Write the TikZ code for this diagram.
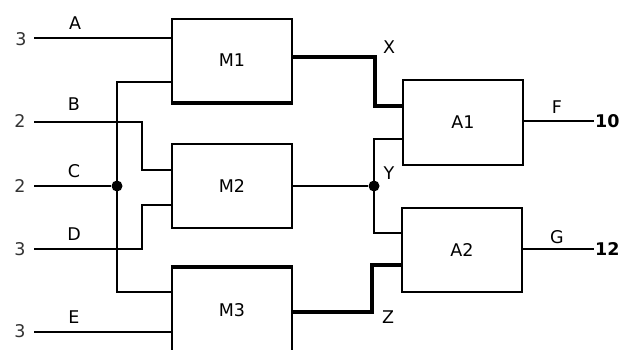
\documentclass[tikz,border=0pt]{standalone}
\usepackage{fontspec}
\usepackage{tikz}
\usetikzlibrary{positioning,calc}
\newfontfamily\diagfont{DejaVu Sans}
\tikzset{
  blockbox/.style={rectangle, draw, line width=2.3pt, minimum width=120pt, minimum height=84pt, inner sep=0pt, font=\diagfont\fontsize{17.5}{19}\selectfont},
  wire/.style={line width=2.3pt},
  buswire/.style={line width=3.4pt},
  sig/.style={font=\diagfont\fontsize{17.5}{19}\selectfont, inner sep=0pt},
  val/.style={font=\diagfont\fontsize{17.5}{19}\selectfont, text=black!80, inner sep=0pt},
  outval/.style={font=\diagfont\bfseries\fontsize{17.5}{19}\selectfont, inner sep=0pt},
  joint/.style={circle, fill=black, inner sep=0pt, minimum size=11pt},
}

\begin{document}
\begin{tikzpicture}[x=1pt, y=-1pt]
  \useasboundingbox (0,0) rectangle (621,349);
  \clip (0,0) rectangle (621,349);
  \fill[white] (0,0) rectangle (621,349);

  % Multiplier and adder blocks
  \node[blockbox, minimum height=83pt] (M1) at (232,60.5) {M1};
  \node[blockbox] (M2) at (232,186) {M2};
  \node[blockbox] (M3) at (232,310) {M3};
  \node[blockbox, minimum height=85pt] (A1) at (463,122.5) {A1};
  \node[blockbox] (A2) at (462,250) {A2};
  \draw[buswire] (M1.south west) -- (M1.south east);
  \draw[buswire] (M3.north west) -- (M3.north east);

  % Inputs
  \coordinate (inA) at (34,38);
  \coordinate (inB) at (34,122);
  \coordinate (inC) at (34,186);
  \coordinate (inD) at (34,249);
  \coordinate (inE) at (34,332);
  \node[val] (valA) at (21,39) {3};
  \node[val] (valB) at (20,121) {2};
  \node[val] (valC) at (20,186) {2};
  \node[val] (valD) at (20,249) {3};
  \node[val] (valE) at (20,331) {3};
  \node[sig] (labA) at (75,23) {A};
  \node[sig] (labB) at (74,104) {B};
  \node[sig] (labC) at (74,171) {C};
  \node[sig] (labD) at (74,234) {D};
  \node[sig] (labE) at (74,317) {E};

  % Input wiring
  \node[joint] (jC) at (117,186) {};
  \coordinate (kB) at (142,170);
  \coordinate (kD) at (142,205);
  \coordinate (c1) at (117,82);
  \coordinate (c3) at (117,292);
  \draw[wire] (inA) -- (inA -| M1.west);
  \draw[wire] (inB) -| (kB) -- (kB -| M2.west);
  \draw[wire] (inC) -- (jC);
  \draw[wire] (inD) -| (kD) -- (kD -| M2.west);
  \draw[wire] (inE) -- (inE -| M3.west);
  \draw[wire] (c1 -| M1.west) -- (c1) -- (c3) -- (c3 -| M3.west);

  % Intermediate signals
  \coordinate (x0) at (292,57);
  \coordinate (xk) at (375,106);
  \coordinate (z0) at (292,312);
  \coordinate (zk) at (372,265);
  \node[joint] (jY) at (374,186) {};
  \coordinate (y1) at (374,139);
  \coordinate (y2) at (374,233);
  \draw[buswire] (x0 -| M1.east) -| (xk) -- (xk -| A1.west);
  \draw[wire] (M2.east) -- (jY);
  \draw[wire] (y1 -| A1.west) -- (y1) -- (y2) -- (y2 -| A2.west);
  \draw[buswire] (z0 -| M3.east) -| (zk) -- (zk -| A2.west);
  \node[sig] (labX) at (389,47) {X};
  \node[sig] (labY) at (389,173) {Y};
  \node[sig] (labZ) at (388,317) {Z};

  % Outputs
  \coordinate (outF) at (594,121);
  \coordinate (outG) at (594,249);
  \draw[wire] (outF -| A1.east) -- (outF);
  \draw[wire] (outG -| A2.east) -- (outG);
  \node[sig] (labF) at (557,107) {F};
  \node[sig] (labG) at (557,237) {G};
  \node[outval, right=1pt of outF] (valF) {10};
  \node[outval, right=1pt of outG] (valG) {12};
\end{tikzpicture}
\end{document}
